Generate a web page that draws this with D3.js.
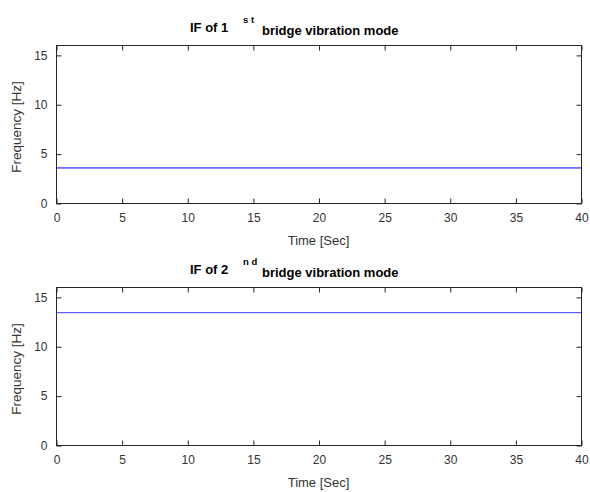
<!DOCTYPE html>
<html>
<head>
<meta charset="utf-8">
<script src="https://cdn.jsdelivr.net/npm/d3@7"></script>
<style>
  html, body { margin: 0; padding: 0; background: #fff; }
  svg { display: block; font-family: "Liberation Sans", Arial, sans-serif; }
</style>
</head>
<body>
<svg id="chart" width="590" height="492"></svg>
<script>
// ---- data ----
const timeRange = [0, 40];                  // seconds
const freqRange = [0, 16];                  // Hz
const xTicks = [0, 5, 10, 15, 20, 25, 30, 35, 40];
const yTicks = [0, 5, 10, 15];
const mode1Time = [0, 40];
const mode1Freq = [3.55, 3.55];
const mode2Time = [0, 40];
const mode2Freq = [13.4, 13.4];
const titles = [
  { pre: "IF of 1", sup: "s t", post: "bridge vibration mode" },
  { pre: "IF of 2", sup: "n d", post: "bridge vibration mode" }
];
const xLabel = "Time [Sec]";
const yLabel = "Frequency [Hz]";

// ---- layout ----
const svg = d3.select("#chart");
const axisColor = "#262626";
const textColor = "#333333";
const panels = [
  { top: 45, bottom: 203, time: mode1Time, freq: mode1Freq, color: "#0000ff", title: titles[0] },
  { top: 287, bottom: 445, time: mode2Time, freq: mode2Freq, color: "#3c3cff", title: titles[1] }
];
const left = 56, right = 581;

panels.forEach(p => {
  const g = svg.append("g");
  const x = d3.scaleLinear().domain(timeRange).range([left, right]);
  const y = d3.scaleLinear().domain(freqRange).range([p.bottom, p.top]);

  g.append("rect")
    .attr("x", left + 0.5).attr("y", p.top + 0.5)
    .attr("width", right - left).attr("height", p.bottom - p.top)
    .attr("fill", "none").attr("stroke", axisColor).attr("stroke-width", 1);

  const line = d3.line().x((d, i) => x(p.time[i])).y(d => y(d));
  g.append("path")
    .datum(p.freq)
    .attr("d", line)
    .attr("fill", "none")
    .attr("stroke", p.color)
    .attr("stroke-width", 1);

  const tickLen = 5;
  const xAxis = d3.axisBottom(x).tickValues(xTicks).tickSize(-tickLen).tickPadding(10).tickFormat(d3.format("d"));
  const xa = g.append("g").attr("transform", `translate(0.5,${p.bottom + 0.5})`).call(xAxis);
  const xAxisTop = d3.axisTop(x).tickValues(xTicks).tickSize(-tickLen).tickFormat("");
  const xt = g.append("g").attr("transform", `translate(0.5,${p.top + 0.5})`).call(xAxisTop);
  const yAxis = d3.axisLeft(y).tickValues(yTicks).tickSize(-tickLen).tickPadding(9).tickFormat(d3.format("d"));
  const ya = g.append("g").attr("transform", `translate(${left + 0.5},0.5)`).call(yAxis);
  const yAxisR = d3.axisRight(y).tickValues(yTicks).tickSize(-tickLen).tickFormat("");
  const yr = g.append("g").attr("transform", `translate(${right + 0.5},0.5)`).call(yAxisR);

  [xa, xt, ya, yr].forEach(a => {
    a.select(".domain").remove();
    a.selectAll(".tick line").attr("stroke", axisColor);
    a.selectAll(".tick text").attr("fill", textColor).attr("font-size", 12)
      .attr("font-family", "'Liberation Sans', Arial, sans-serif");
  });

  g.append("text")
    .attr("x", (left + right) / 2).attr("y", p.bottom + 42)
    .attr("text-anchor", "middle")
    .attr("font-size", 13).attr("fill", textColor)
    .text(xLabel);

  g.append("text")
    .attr("transform", `translate(21,${(p.top + p.bottom) / 2 + 3}) rotate(-90)`)
    .attr("text-anchor", "middle")
    .attr("font-size", 13.5).attr("fill", textColor)
    .text(yLabel);

  const t = g.append("g").attr("font-weight", "bold").attr("fill", "#000");
  t.append("text").attr("x", 190).attr("y", p.top - 13).attr("font-size", 13).text(p.title.pre);
  t.append("text").attr("x", 243).attr("y", p.top - 22).attr("font-size", 9.5).text(p.title.sup);
  t.append("text").attr("x", 262).attr("y", p.top - 10).attr("font-size", 13).text(p.title.post);
});
</script>
</body>
</html>
